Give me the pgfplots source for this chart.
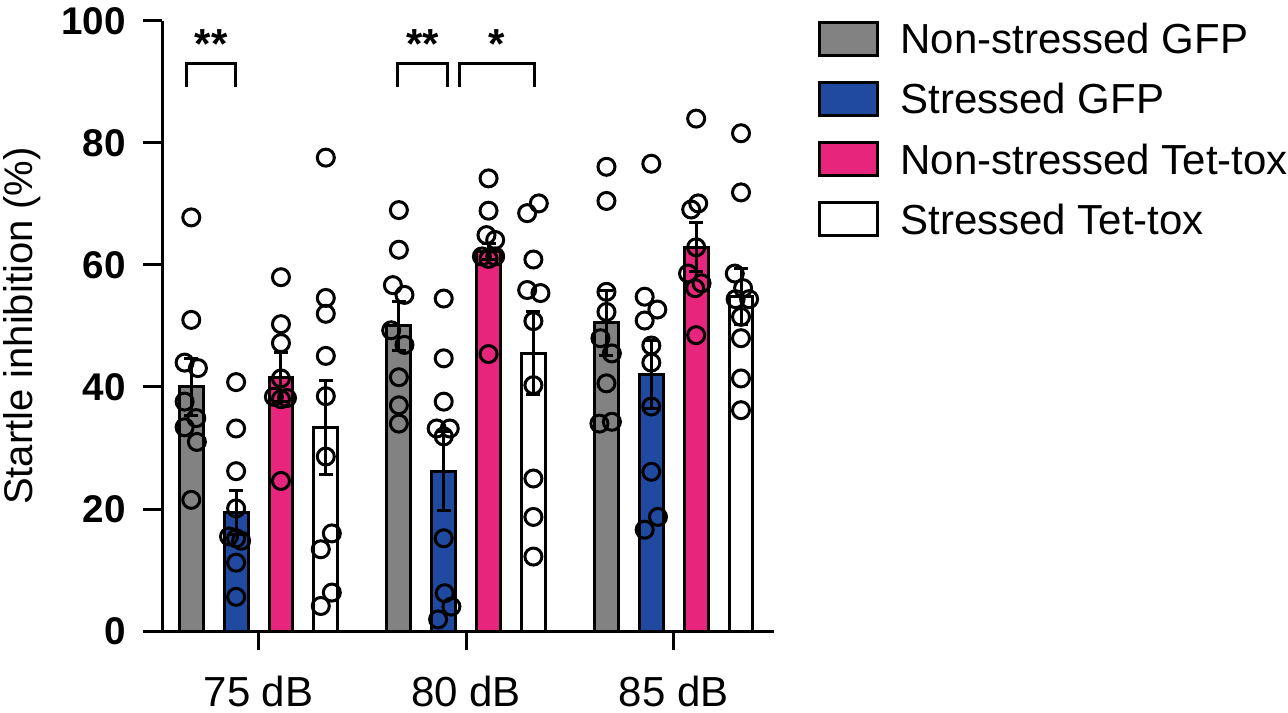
\documentclass[border=0pt]{standalone}
\usepackage{fontspec}
\setmainfont{Liberation Sans}
\usepackage{pgfplots}
\pgfplotsset{compat=1.18}
\definecolor{cgray}{RGB}{130,130,130}
\definecolor{cblue}{RGB}{32,73,160}
\definecolor{cpink}{RGB}{231,37,125}
\pgfplotsset{
  boxlegend/.style={legend image code/.code={\draw[##1, line width=1.5pt] (0pt,-8.25pt) rectangle (29pt,8.25pt);}},
  mybar/.style={ybar, bar width=0.115, bar shift=0pt, draw=black, line width=1.5pt, boxlegend,
    error bars/y dir=both, error bars/y explicit,
    error bars/error bar style={line width=1.5pt, black},
    error bars/error mark options={rotate=90, mark size=3.5pt, line width=1.5pt, black}},
  mydots/.style={only marks, mark=o, mark size=4.25pt, black, line width=1.5pt, forget plot},
}
\begin{document}
\begin{tikzpicture}
\path[use as bounding box] (0,0) rectangle (644pt,356pt);
\begin{axis}[
  at={(81pt,40.5pt)}, anchor=south west,
  scale only axis, width=306pt, height=305pt,
  xmin=-0.465, xmax=2.483, ymin=0, ymax=100,
  clip=false,
  axis lines=left,
  axis line style={-, line width=1.5pt, black},
  xtick={0,1,2}, xticklabels={75 dB,80 dB,85 dB},
  ytick={0,20,40,60,80,100},
  tick align=outside, major tick length=9.4pt,
  tick style={line width=1.5pt, black},
  /pgf/number format/assume math mode=true,
  xticklabel style={font=\fontsize{21}{21}\selectfont, anchor=north, inner sep=0pt, yshift=-13.0pt},
  yticklabel style={font=\fontsize{19.3}{20}\selectfont\bfseries, anchor=east, inner sep=0pt, xshift=-8.6pt},
  every axis y label/.style={at={(axis description cs:-0.2108,0.5)}, anchor=base, rotate=90, font=\fontsize{20}{20}\selectfont},
  ylabel={Startle inhibition (\%)},
  legend cell align=left,
  legend style={at={(axis description cs:1.0711,1.0013)}, anchor=north west, draw=none, fill=none,
    inner xsep=0pt, inner ysep=0pt, nodes={inner sep=0pt, text depth=0pt},
    row sep=12.07pt, column sep=10.75pt, font=\fontsize{21}{21}\selectfont},
]
% bars
\addplot[mybar, fill=cgray]
  coordinates {(-0.324,40.0) +- (0,4.7) (0.676,50.0) +- (0,4.0) (1.676,50.5) +- (0,5.3)};
\addlegendentry{Non-stressed GFP}
\addplot[mybar, fill=cblue]
  coordinates {(-0.108,19.4) +- (0,3.6) (0.892,26.2) +- (0,6.5) (1.892,42.0) +- (0,5.6)};
\addlegendentry{Stressed GFP}
\addplot[mybar, fill=cpink]
  coordinates {(0.108,41.6) +- (0,4.0) (1.108,62.2) +- (0,1.3) (2.108,62.9) +- (0,4.0)};
\addlegendentry{Non-stressed Tet-tox}
\addplot[mybar, fill=white]
  coordinates {(0.324,33.4) +- (0,7.7) (1.324,45.5) +- (0,6.8) (2.324,54.8) +- (0,4.6)};
\addlegendentry{Stressed Tet-tox}
% individual points
\addplot[mydots] coordinates {
  (-0.324,67.8) (-0.324,51.0) (-0.356,44.0) (-0.292,43.1) (-0.356,37.6) (-0.300,34.9) (-0.356,33.4) (-0.297,31.0) (-0.324,21.5)
  (0.676,69.0) (0.676,62.5) (0.647,56.7) (0.703,55.1) (0.639,49.3) (0.703,46.9) (0.676,41.6) (0.676,37.0) (0.676,34.0)
  (1.676,76.1) (1.676,70.5) (1.676,55.6) (1.676,52.3) (1.647,48.0) (1.702,45.5) (1.676,40.6) (1.642,34.0) (1.702,34.3)};
\addplot[mydots] coordinates {
  (-0.108,40.8) (-0.108,33.2) (-0.108,26.2) (-0.108,20.1) (-0.142,15.5) (-0.108,15.2) (-0.084,14.8) (-0.108,11.2) (-0.108,5.6)
  (0.892,54.5) (0.892,44.7) (0.892,37.6) (0.858,33.2) (0.921,33.2) (0.892,31.9) (0.892,15.2) (0.897,6.2) (0.929,4.0) (0.865,1.9)
  (1.892,76.6) (1.860,54.8) (1.921,52.7) (1.860,50.9) (1.892,46.8) (1.892,44.0) (1.892,36.8) (1.892,26.1) (1.924,18.7) (1.860,16.6)};
\addplot[mydots] coordinates {
  (0.108,58.0) (0.108,50.3) (0.108,47.2) (0.108,41.4) (0.074,38.4) (0.137,38.2) (0.108,38.0) (0.108,24.6)
  (1.108,74.2) (1.108,68.9) (1.098,64.9) (1.140,64.1) (1.076,61.4) (1.140,61.4) (1.108,61.0) (1.108,45.4)
  (2.108,84.0) (2.118,70.1) (2.084,69.1) (2.108,62.9) (2.069,58.6) (2.134,57.0) (2.103,56.2) (2.108,48.5)};
\addplot[mydots] coordinates {
  (0.324,77.6) (0.324,54.6) (0.324,52.0) (0.324,45.1) (0.324,38.5) (0.324,28.6) (0.353,16.0) (0.300,13.4) (0.353,6.3) (0.300,4.1)
  (1.350,70.1) (1.294,68.5) (1.324,60.9) (1.294,55.9) (1.358,55.4) (1.324,50.8) (1.324,40.3) (1.324,25.0) (1.324,18.7) (1.324,12.2)
  (2.324,81.6) (2.324,71.9) (2.294,58.6) (2.334,56.2) (2.298,54.4) (2.363,54.4) (2.324,51.5) (2.324,48.0) (2.324,41.4) (2.324,36.2)};
% significance brackets
\draw[line width=1.5pt, black] (axis cs:-0.345,89.1) -- (axis cs:-0.345,92.95) -- (axis cs:-0.110,92.95) -- (axis cs:-0.110,89.1);
\draw[line width=1.5pt, black] (axis cs:0.670,89.1) -- (axis cs:0.670,92.95) -- (axis cs:0.910,92.95) -- (axis cs:0.910,89.1);
\draw[line width=1.5pt, black] (axis cs:0.966,89.1) -- (axis cs:0.966,92.95) -- (axis cs:1.328,92.95) -- (axis cs:1.328,89.1);
\node[anchor=base, inner sep=0pt, font=\fontsize{21}{21}\selectfont\bfseries] at (axis cs:-0.228,93.9) {**};
\node[anchor=base, inner sep=0pt, font=\fontsize{21}{21}\selectfont\bfseries] at (axis cs:0.790,93.9) {**};
\node[anchor=base, inner sep=0pt, font=\fontsize{21}{21}\selectfont\bfseries] at (axis cs:1.147,93.9) {*};
\end{axis}
\end{tikzpicture}
\end{document}
